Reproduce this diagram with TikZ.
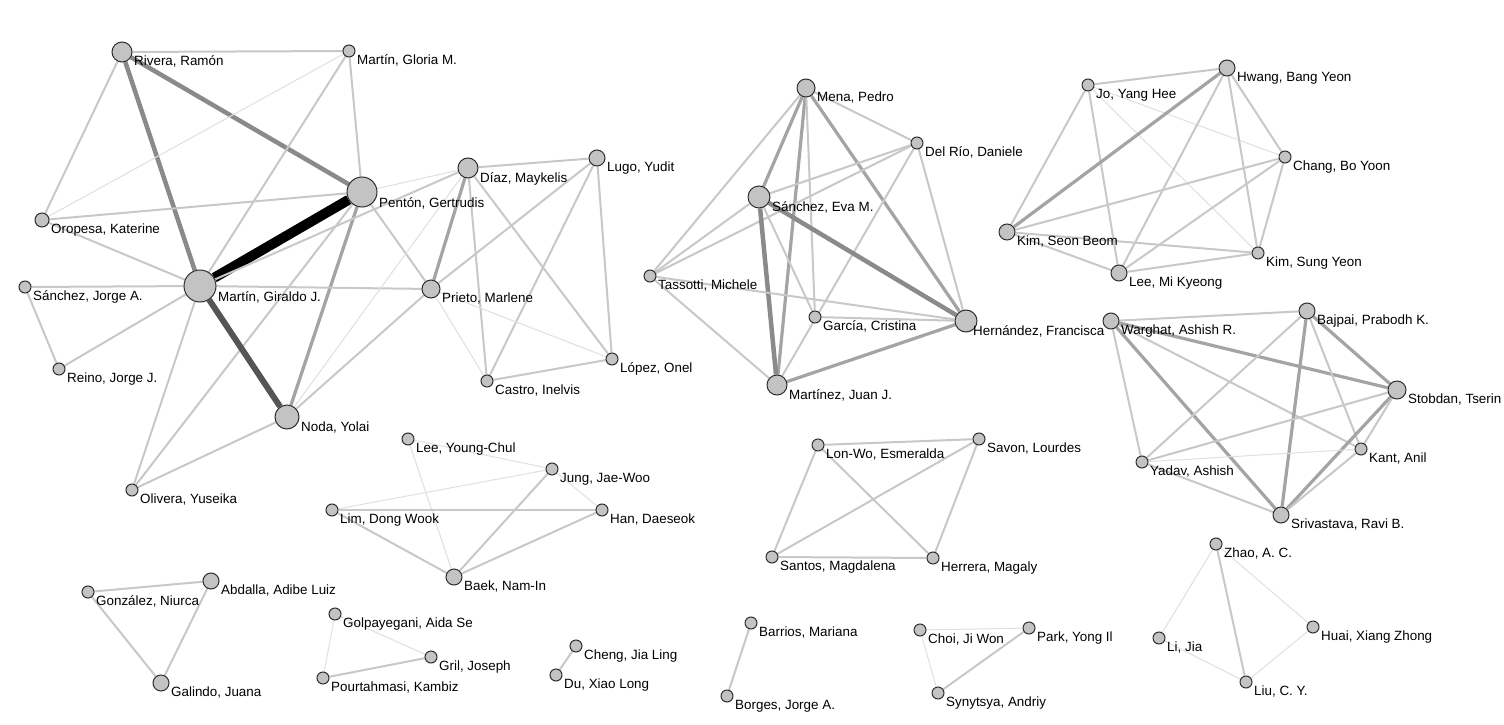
\documentclass[tikz,border=0pt]{standalone}
\usepackage{fontspec}
\setmainfont{Liberation Sans}
\usetikzlibrary{backgrounds}
\definecolor{nfill}{HTML}{C3C3C3}
\definecolor{nborder}{HTML}{2E2E2E}
\definecolor{cA}{HTML}{E0E0E0}
\definecolor{cB}{HTML}{C8C8C8}
\definecolor{cC}{HTML}{A4A4A4}
\definecolor{cD}{HTML}{8A8A8A}
\definecolor{cE}{HTML}{555555}
\tikzset{
  nd/.style={circle, fill=nfill, draw=nborder, line width=1pt, inner sep=0pt},
  lab/.style={anchor=base west, inner sep=0pt, font=\fontsize{13.4}{16}\selectfont},
  ea/.style={draw=cA, line width=1pt},
  eb/.style={draw=cB, line width=2pt},
  ec/.style={draw=cC, line width=3.2pt},
  ed/.style={draw=cD, line width=4.5pt},
  ee/.style={draw=cE, line width=6pt},
  ef/.style={draw=black, line width=10pt},
}
\newcommand\gnode[6][0]{%
  \node[nd, minimum size=#5*2pt] (#2) at (#3,#4) {};
  \node[lab] (#2l) at (#3+#5+2+#1, #4+12+#5/5) {#6};
}
\begin{document}
\begin{tikzpicture}[x=1pt, y=-1pt]
\useasboundingbox (0,0) rectangle (1504,725);
% ---- cluster A
\gnode{R}{122}{52}{10}{Rivera, Ramón}
\gnode{GM}{349}{51}{6}{Martín, Gloria M.}
\gnode{P}{362}{192}{15}{Pentón, Gertrudis}
\gnode{O}{42}{220}{7}{Oropesa, Katerine}
\gnode{G}{200}{286}{16}{Martín, Giraldo J.}
\gnode{SJ}{25}{287}{6}{Sánchez, Jorge A.}
\gnode{RJ}{59}{369}{6}{Reino, Jorge J.}
\gnode{N}{287}{417}{12}{Noda, Yolai}
\gnode{OY}{132}{490}{6}{Olivera, Yuseika}
\gnode{D}{468}{168}{10}{Díaz, Maykelis}
\gnode{L}{597}{158}{8}{Lugo, Yudit}
\gnode{PM}{431}{289}{9}{Prieto, Marlene}
\gnode{C}{487}{381}{6}{Castro, Inelvis}
\gnode{LO}{612}{359}{6}{López, Onel}
% ---- cluster B
\gnode{ME}{806}{88}{9}{Mena, Pedro}
\gnode{DR}{917}{143}{6}{Del Río, Daniele}
\gnode{SE}{759}{197}{11}{Sánchez, Eva M.}
\gnode{T}{650}{276}{6}{Tassotti, Michele}
\gnode{GC}{815}{317}{6}{García, Cristina}
\gnode[-6]{H}{966}{321}{11}{Hernández, Francisca}
\gnode{MJ}{777}{385}{10}{Martínez, Juan J.}
% ---- cluster C
\gnode{HW}{1227}{68}{8}{Hwang, Bang Yeon}
\gnode{JO}{1088}{85}{6}{Jo, Yang Hee}
\gnode{CH}{1285}{157}{6}{Chang, Bo Yoon}
\gnode{KSB}{1007}{232}{8}{Kim, Seon Beom}
\gnode{KSY}{1258}{253}{6}{Kim, Sung Yeon}
\gnode{LMK}{1119}{273}{8}{Lee, Mi Kyeong}
% ---- cluster D
\gnode{W}{1111}{321}{8}{Warghat, Ashish R.}
\gnode{B}{1307}{311}{8}{Bajpai, Prabodh K.}
\gnode{S}{1397}{390}{9}{Stobdan, Tserin}
\gnode{K}{1361}{449}{6}{Kant, Anil}
\gnode{Y}{1142}{462}{6}{Yadav, Ashish}
\gnode{SR}{1281}{515}{8}{Srivastava, Ravi B.}
% ---- cluster E
\gnode{LYC}{408}{439}{6}{Lee, Young-Chul}
\gnode{JU}{552}{469}{6}{Jung, Jae-Woo}
\gnode{LI}{332}{510}{6}{Lim, Dong Wook}
\gnode{HA}{602}{510}{6}{Han, Daeseok}
\gnode{BA}{454}{577}{8}{Baek, Nam-In}
% ---- cluster F
\gnode{LW}{818}{445}{6}{Lon-Wo, Esmeralda}
\gnode{SA}{979}{439}{6}{Savon, Lourdes}
\gnode{ST}{772}{557}{6}{Santos, Magdalena}
\gnode{HE}{933}{558}{6}{Herrera, Magaly}
% ---- small groups
\gnode{GO}{88}{592}{6}{González, Niurca}
\gnode{AB}{211}{581}{8}{Abdalla, Adibe Luiz}
\gnode{GA}{161}{683}{8}{Galindo, Juana}
\gnode{GP}{335}{614}{6}{Golpayegani, Aida Se}
\gnode{GR}{431}{657}{6}{Gril, Joseph}
\gnode{PO}{323}{678}{6}{Pourtahmasi, Kambiz}
\gnode{CJ}{576}{646}{6}{Cheng, Jia Ling}
\gnode{DU}{556}{675}{6}{Du, Xiao Long}
\gnode{BM}{751}{623}{6}{Barrios, Mariana}
\gnode{BJ}{727}{696}{6}{Borges, Jorge A.}
\gnode{CW}{920}{630}{6}{Choi, Ji Won}
\gnode{PY}{1029}{628}{6}{Park, Yong Il}
\gnode{SY}{938}{693}{6}{Synytsya, Andriy}
\gnode{ZH}{1216}{544}{6}{Zhao, A. C.}
\gnode{LJ}{1159}{638}{6}{Li, Jia}
\gnode{HU}{1313}{627}{6}{Huai, Xiang Zhong}
\gnode{LU}{1246}{682}{6}{Liu, C. Y.}
\begin{scope}[on background layer]
\fill[white] (0,0) rectangle (1504,725);
% cluster A
\draw[eb] (R) -- (GM);
\draw[ed] (R) -- (P);
\draw[ed] (R) -- (G);
\draw[eb] (R) -- (O);
\draw[ea] (GM) -- (O);
\draw[eb] (GM) -- (G);
\draw[eb] (GM) -- (P);
\draw[eb] (O) -- (P);
\draw[eb] (O) -- (G);
\draw[ef] (P) -- (G);
\draw[ea] (P) -- (D);
\draw[ec] (P) -- (N);
\draw[eb] (P) -- (PM);
\draw[eb] (P) -- (OY);
\draw[eb] (G) -- (SJ);
\draw[eb] (G) -- (RJ);
\draw[eb] (G) -- (OY);
\draw[eb] (G) -- (PM);
\draw[ee] (G) -- (N);
\draw[eb] (G) -- (D);
\draw[eb] (SJ) -- (RJ);
\draw[eb] (OY) -- (N);
\draw[eb] (N) -- (PM);
\draw[ea] (N) -- (D);
\draw[eb] (D) -- (L);
\draw[ec] (D) -- (PM);
\draw[eb] (D) -- (C);
\draw[eb] (D) -- (LO);
\draw[eb] (L) -- (PM);
\draw[eb] (L) -- (C);
\draw[eb] (L) -- (LO);
\draw[ea] (PM) -- (C);
\draw[ea] (PM) -- (LO);
\draw[eb] (C) -- (LO);
% cluster B
\draw[eb] (ME) -- (DR);
\draw[ec] (ME) -- (SE);
\draw[ec] (ME) -- (MJ);
\draw[eb] (ME) -- (GC);
\draw[ec] (ME) -- (H);
\draw[eb] (ME) -- (T);
\draw[eb] (DR) -- (SE);
\draw[eb] (DR) -- (T);
\draw[eb] (DR) -- (H);
\draw[eb] (DR) -- (MJ);
\draw[ed] (SE) -- (MJ);
\draw[ed] (SE) -- (H);
\draw[eb] (SE) -- (T);
\draw[eb] (SE) -- (GC);
\draw[eb] (T) -- (H);
\draw[eb] (T) -- (MJ);
\draw[eb] (GC) -- (H);
\draw[ec] (MJ) -- (H);
% cluster C
\draw[eb] (JO) -- (HW);
\draw[eb] (JO) -- (KSB);
\draw[eb] (JO) -- (LMK);
\draw[ea] (JO) -- (KSY);
\draw[ea] (JO) -- (CH);
\draw[ec] (HW) -- (KSB);
\draw[eb] (HW) -- (LMK);
\draw[eb] (HW) -- (KSY);
\draw[eb] (HW) -- (CH);
\draw[eb] (CH) -- (KSB);
\draw[eb] (CH) -- (LMK);
\draw[eb] (CH) -- (KSY);
\draw[eb] (KSB) -- (KSY);
\draw[eb] (KSB) -- (LMK);
\draw[eb] (LMK) -- (KSY);
% cluster D
\draw[eb] (W) -- (B);
\draw[ec] (W) -- (S);
\draw[eb] (W) -- (K);
\draw[eb] (W) -- (Y);
\draw[ec] (W) -- (SR);
\draw[eb] (B) -- (Y);
\draw[ec] (B) -- (SR);
\draw[eb] (B) -- (K);
\draw[ec] (B) -- (S);
\draw[eb] (S) -- (Y);
\draw[ec] (S) -- (SR);
\draw[eb] (S) -- (K);
\draw[ea] (K) -- (Y);
\draw[eb] (K) -- (SR);
\draw[eb] (Y) -- (SR);
% cluster E
\draw[ea] (LYC) -- (JU);
\draw[ea] (LYC) -- (BA);
\draw[ea] (JU) -- (LI);
\draw[ea] (JU) -- (HA);
\draw[eb] (JU) -- (BA);
\draw[eb] (LI) -- (HA);
\draw[eb] (LI) -- (BA);
\draw[eb] (HA) -- (BA);
% cluster F
\draw[eb] (LW) -- (SA);
\draw[eb] (LW) -- (ST);
\draw[eb] (LW) -- (HE);
\draw[eb] (SA) -- (ST);
\draw[eb] (SA) -- (HE);
\draw[eb] (ST) -- (HE);
% small groups
\draw[eb] (GO) -- (AB);
\draw[eb] (GO) -- (GA);
\draw[eb] (AB) -- (GA);
\draw[ea] (GP) -- (GR);
\draw[ea] (GP) -- (PO);
\draw[eb] (GR) -- (PO);
\draw[eb] (CJ) -- (DU);
\draw[eb] (BM) -- (BJ);
\draw[ea] (CW) -- (PY);
\draw[ea] (CW) -- (SY);
\draw[eb] (PY) -- (SY);
\draw[ea] (ZH) -- (LJ);
\draw[eb] (ZH) -- (LU);
\draw[ea] (ZH) -- (HU);
\draw[ea] (HU) -- (LU);
\draw[ea] (LJ) -- (LU);
\end{scope}
\end{tikzpicture}
\end{document}
